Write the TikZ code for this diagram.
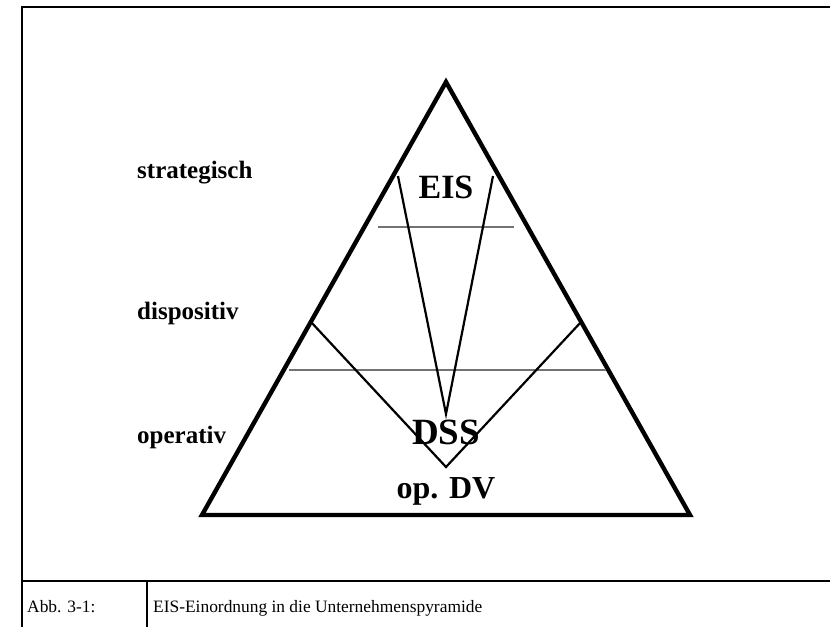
\documentclass[tikz,border=0pt]{standalone}
\usepackage{fontspec}
\setmainfont{Liberation Serif}
\begin{document}
\begin{tikzpicture}[x=1pt,y=-1pt,
  frameline/.style={line width=2.6pt},
  pyramid/.style={line width=4.4pt,line join=miter},
  wedge/.style={line width=2.2pt},
  levelline/.style={line width=1.2pt,draw=black!55},
  levellabel/.style={anchor=west,inner sep=0pt,font=\fontsize{25}{25}\selectfont\bfseries},
  syslabel/.style={inner sep=0pt,font=\fontsize{34}{34}\selectfont\bfseries},
  captext/.style={anchor=base west,inner sep=0pt,font=\fontsize{17.4}{17.4}\selectfont}]
\useasboundingbox (0,0) rectangle (830,627);

% frame and caption row
\coordinate (fTL) at (22,7);
\coordinate (fTR) at (830,7);
\coordinate (fBL) at (22,627);
\coordinate (cL) at (22,581);
\coordinate (cR) at (830,581);
\coordinate (dT) at (147,581);
\coordinate (dB) at (147,627);
\draw[frameline] (fBL) -- (fTL) -- (fTR);
\draw[frameline] (cL) -- (cR);
\draw[frameline] (dT) -- (dB);
\node[captext] (abb) at (27,612) {Abb. 3-1:};
\node[captext] (cap) at (153,612) {EIS-Einordnung in die Unternehmenspyramide};

% pyramid
\coordinate (apex) at (446,82);
\coordinate (bl) at (202,515);
\coordinate (br) at (690,515);
\draw[pyramid] (bl) -- (apex) -- (br) -- cycle;

% level separators
\coordinate (s1l) at (378,227);
\coordinate (s1r) at (514,227);
\coordinate (s2l) at (289,370);
\coordinate (s2r) at (606,370);
\draw[levelline] (s1l) -- (s1r);
\draw[levelline] (s2l) -- (s2r);

% DSS wedge
\coordinate (dl) at (311,322);
\coordinate (dtip) at (446,467);
\coordinate (dr) at (581,322);
\draw[wedge] (dl) -- (dtip) -- (dr);

% EIS wedge
\coordinate (el) at (398,176);
\coordinate (etip) at (446,414);
\coordinate (er) at (493,176);
\draw[wedge] (el) -- (etip) -- (er);

% level names
\node[levellabel] (strat) at (137,173) {strategisch};
\node[levellabel] (disp) at (137,313) {dispositiv};
\node[levellabel] (oper) at (137,437) {operativ};

% system names
\node[syslabel] (eis) at (446,187) {EIS};
\node[syslabel,font=\fontsize{37}{37}\selectfont\bfseries] (dss) at (446,432) {DSS};
\node[syslabel,font=\fontsize{32}{32}\selectfont\bfseries] (opdv) at (446,491) {op. DV};
\end{tikzpicture}
\end{document}
